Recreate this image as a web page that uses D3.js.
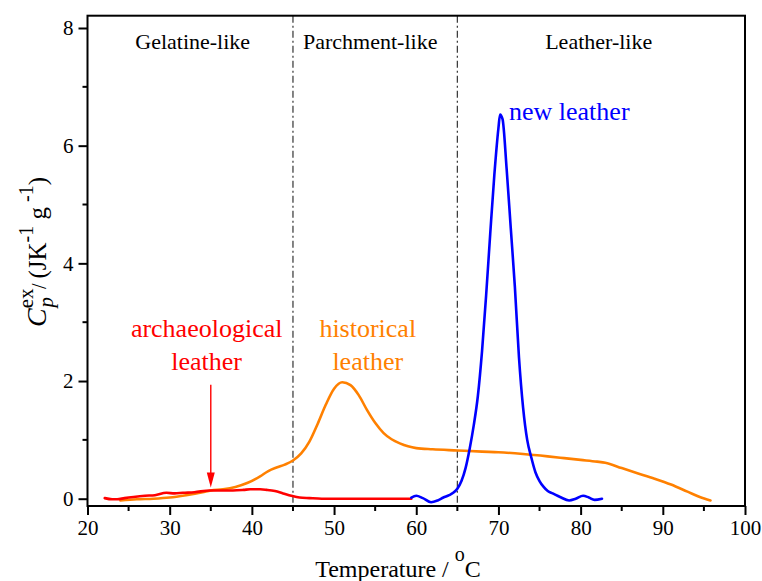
<!DOCTYPE html>
<html>
<head>
<meta charset="utf-8">
<script src="https://cdn.jsdelivr.net/npm/d3@7"></script>
<style>
  html, body { margin: 0; padding: 0; background: #fff; }
  svg { display: block; }
  svg text { font-family: "Liberation Serif", Tinos, "DejaVu Serif", serif; }
</style>
</head>
<body>
<svg id="chart" width="762" height="581"></svg>
<script>
// ---------------- data ----------------
const archaeologicalT = [22.1, 23.0, 23.6, 24.5, 25.6, 27.0, 28.2, 29.6, 30.6, 31.6, 33.0, 34.9, 36.5, 37.7, 39.0, 39.8, 41.0, 41.8, 42.8, 43.8, 44.8, 45.8, 47.0, 48.5, 51.0, 54.0, 57.0, 59.4];
const archaeologicalV = [0.01, -0.01, -0.01, 0.01, 0.03, 0.05, 0.06, 0.10, 0.09, 0.10, 0.11, 0.14, 0.14, 0.14, 0.15, 0.16, 0.16, 0.15, 0.13, 0.09, 0.05, 0.02, 0.01, 0.0, 0.0, 0.0, 0.0, 0.0];

const historicalT = [24.0, 26.0, 28.0, 30.0, 32.0, 34.0, 35.0, 36.5, 38.0, 39.5, 41.0, 42.0, 43.0, 44.0, 45.0, 46.0, 47.0, 48.0, 49.0, 50.0, 51.0, 52.0, 53.0, 54.0, 55.0, 56.0, 57.0, 58.0, 59.0, 60.0, 62.0, 65.0, 68.0, 70.0, 73.0, 76.0, 78.0, 80.0, 82.0, 83.0, 85.0, 87.0, 89.0, 91.0, 93.0, 94.5, 95.8];
const historicalV = [-0.03, -0.01, 0.0, 0.02, 0.06, 0.11, 0.14, 0.16, 0.2, 0.27, 0.38, 0.47, 0.53, 0.58, 0.65, 0.77, 0.97, 1.27, 1.6, 1.87, 1.98, 1.93, 1.76, 1.51, 1.29, 1.12, 1.01, 0.94, 0.89, 0.86, 0.84, 0.82, 0.80, 0.79, 0.76, 0.72, 0.69, 0.66, 0.63, 0.61, 0.52, 0.43, 0.34, 0.24, 0.12, 0.03, -0.03];

const newT = [59.4, 60.0, 60.8, 61.8, 62.6, 63.3, 64.0, 64.5, 65.0, 65.5, 66.0, 66.5, 67.0, 67.5, 68.0, 68.5, 69.0, 69.5, 70.0, 70.2, 70.5, 71.0, 71.5, 72.0, 72.5, 73.0, 73.5, 74.0, 74.5, 75.0, 75.5, 76.0, 76.6, 77.5, 78.6, 79.4, 80.3, 81.0, 81.7, 82.6];
const newV = [0.02, 0.05, 0.01, -0.06, -0.03, 0.02, 0.06, 0.10, 0.17, 0.30, 0.52, 0.85, 1.25, 1.75, 2.5, 3.45, 4.5, 5.5, 6.3, 6.53, 6.45, 5.6, 4.6, 3.6, 2.4, 1.55, 1.0, 0.7, 0.45, 0.3, 0.2, 0.13, 0.09, 0.03, -0.03, 0.0, 0.05, 0.02, -0.02, 0.0];

const xTicks = [20, 30, 40, 50, 60, 70, 80, 90, 100];
const xMinorTicks = [25, 35, 45, 55, 65, 75, 85, 95];
const yTicks = [0, 2, 4, 6, 8];
const yMinorTicks = [1, 3, 5, 7];
const regionBounds = [45, 65];
const regionLabels = ["Gelatine-like", "Parchment-like", "Leather-like"];
const regionCenters = [32.8, 54.4, 82.2];
const arrowTemp = 35;
const arrowFrom = 1.97;
const arrowTo = 0.19;

// ---------------- layout ----------------
const svg = d3.select("#chart");
const SERIF = "'Liberation Serif', Tinos, 'DejaVu Serif', serif";
const L = 87.5, R = 745, T = 15.7, B = 506;
const x = d3.scaleLinear().domain([20, 100]).range([L, R]);
const y = d3.scaleLinear().domain([-0.124, 8.209]).range([B, T]);

const tickFont = 21;

const line = d3.line().x(d => x(d[0])).y(d => y(d[1])).curve(d3.curveMonotoneX);
svg.append("clipPath").attr("id", "clip").append("rect")
  .attr("x", L).attr("y", T).attr("width", R - L).attr("height", B - T);

// region separators
svg.append("g").selectAll("line").data(regionBounds).join("line")
  .attr("x1", d => x(d)).attr("x2", d => x(d))
  .attr("y1", T).attr("y2", B)
  .attr("stroke", "#333").attr("stroke-width", 1.2)
  .attr("stroke-dasharray", "7,3,2,3");

const series = [
  { t: historicalT, v: historicalV, color: "#ff8000" },
  { t: archaeologicalT, v: archaeologicalV, color: "#ff0000" },
  { t: newT, v: newV, color: "#0000ff" }
];
svg.append("g").attr("clip-path", "url(#clip)").selectAll("path").data(series).join("path")
  .attr("d", s => line(s.t.map((t, i) => [t, s.v[i]])))
  .attr("fill", "none").attr("stroke", s => s.color).attr("stroke-width", 2.6)
  .attr("stroke-linejoin", "round").attr("stroke-linecap", "round");

// frame
svg.append("rect").attr("x", L).attr("y", T).attr("width", R - L).attr("height", B - T)
  .attr("fill", "none").attr("stroke", "#000").attr("stroke-width", 2);

// axes
const xAxis = d3.axisBottom(x).tickValues(xTicks).tickSize(9).tickPadding(5).tickFormat(d3.format("d"));
const gx = svg.append("g").attr("transform", `translate(0,${B})`).call(xAxis)
  .attr("font-family", SERIF);
gx.select(".domain").remove();
gx.selectAll(".tick line").attr("stroke", "#000").attr("stroke-width", 2);
gx.selectAll(".tick text").attr("font-size", tickFont).attr("fill", "#000")
  .style("font-family", SERIF);
svg.append("g").selectAll("line").data(xMinorTicks).join("line")
  .attr("x1", d => x(d)).attr("x2", d => x(d)).attr("y1", B).attr("y2", B + 5)
  .attr("stroke", "#000").attr("stroke-width", 2);

const yAxis = d3.axisLeft(y).tickValues(yTicks).tickSize(9).tickPadding(5).tickFormat(d3.format("d"));
const gy = svg.append("g").attr("transform", `translate(${L},0)`).call(yAxis)
  .attr("font-family", SERIF);
gy.select(".domain").remove();
gy.selectAll(".tick line").attr("stroke", "#000").attr("stroke-width", 2);
gy.selectAll(".tick text").attr("font-size", tickFont).attr("fill", "#000")
  .style("font-family", SERIF);
svg.append("g").selectAll("line").data(yMinorTicks).join("line")
  .attr("x1", L - 5).attr("x2", L).attr("y1", d => y(d)).attr("y2", d => y(d))
  .attr("stroke", "#000").attr("stroke-width", 2);

// x axis title
const xt = svg.append("text").attr("x", 398).attr("y", 577).attr("text-anchor", "middle")
  .attr("font-size", 24).attr("fill", "#000");
xt.append("tspan").text("Temperature / ");
xt.append("tspan").attr("dy", -16).attr("font-size", 20).text("o");
xt.append("tspan").attr("dy", 16).text("C");

// y axis title
const yt = svg.append("text").attr("transform", "translate(46,252) rotate(-90)")
  .attr("text-anchor", "middle").attr("font-size", 24).attr("fill", "#000");
yt.append("tspan").attr("font-style", "italic").attr("font-size", 28).text("C");
yt.append("tspan").attr("dy", -13).attr("font-size", 21).text("ex");
yt.append("tspan").attr("dx", -19).attr("dy", 20).attr("font-size", 21).attr("font-style", "italic").text("p");
yt.append("tspan").attr("dy", -7).attr("dx", 3).attr("font-size", 20).text(" / ");
yt.append("tspan").attr("font-size", 25).text("(JK");
yt.append("tspan").attr("dy", -13).attr("font-size", 20).text("-1");
yt.append("tspan").attr("dy", 13).attr("font-size", 25).text(" g");
yt.append("tspan").attr("dy", -13).attr("font-size", 20).text(" -1");
yt.append("tspan").attr("dy", 13).attr("font-size", 25).text(")");

// region labels
svg.append("g").selectAll("text").data(regionLabels).join("text")
  .attr("x", (d, i) => x(regionCenters[i])).attr("y", 49)
  .attr("text-anchor", "middle").attr("font-size", 22).attr("fill", "#000")
  .text(d => d);

// series annotations
const ann = [
  { lines: ["archaeological", "leather"], t: 34.5, y0: 337, color: "#ff0000" },
  { lines: ["historical", "leather"], t: 54.1, y0: 337, color: "#ff8000" }
];
ann.forEach(a => {
  a.lines.forEach((s, i) => {
    svg.append("text").attr("x", x(a.t)).attr("y", a.y0 + i * 33)
      .attr("text-anchor", "middle").attr("font-size", 26).attr("fill", a.color).text(s);
  });
});
svg.append("text").attr("x", 509).attr("y", 120).attr("font-size", 26)
  .attr("fill", "#0000ff").text("new leather");

// arrow
const ax = x(arrowTemp);
svg.append("line").attr("x1", ax).attr("x2", ax)
  .attr("y1", y(arrowFrom) + 2).attr("y2", y(arrowTo) - 12)
  .attr("stroke", "#ff0000").attr("stroke-width", 1.4);
svg.append("path")
  .attr("d", `M${ax - 4},${y(arrowTo) - 15} L${ax + 4},${y(arrowTo) - 15} L${ax},${y(arrowTo)} Z`)
  .attr("fill", "#ff0000");
</script>
</body>
</html>
